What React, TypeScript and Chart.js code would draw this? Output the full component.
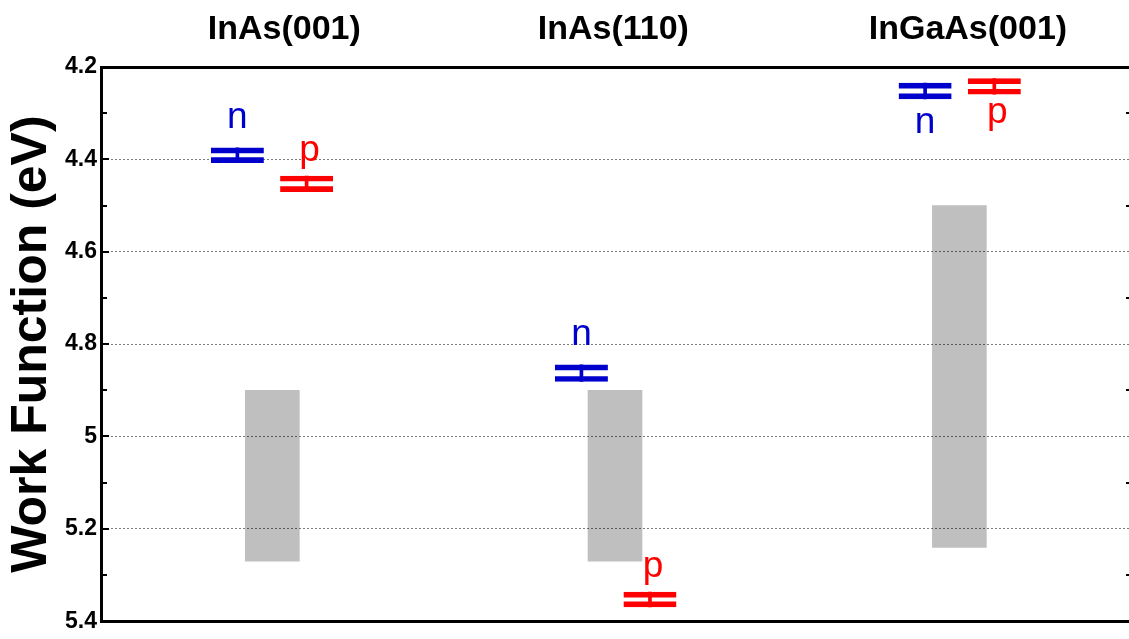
import React, { useEffect, useRef } from 'react';
import { Chart, registerables } from 'chart.js';

Chart.register(...registerables);

// ---- data ----
const categories = ['InAs(001)', 'InAs(110)', 'InGaAs(001)'];
const titleX = [1.035, 1.995, 3.03];

const bandX = [1.0, 2.0, 3.005];
const bandLow = [4.9, 4.9, 4.5];
const bandHigh = [5.27, 5.27, 5.24];

const nX = [0.898, 1.902, 2.905];
const nValue = [4.391, 4.863, 4.252];
const nError = [0.016, 0.018, 0.017];
const nLabelSide = ['above', 'above', 'below'];

const pX = [1.1, 2.102, 3.107];
const pValue = [4.453, 5.353, 4.242];
const pError = [0.017, 0.016, 0.017];
const pLabelSide = ['above', 'above', 'below'];

const yTicks = [4.2, 4.3, 4.4, 4.5, 4.6, 4.7, 4.8, 4.9, 5.0, 5.1, 5.2, 5.3, 5.4];
const yTickLabels = ['4.2', '', '4.4', '', '4.6', '', '4.8', '', '5', '', '5.2', '', '5.4'];

const BLUE = '#0000cd';
const RED = '#ff0000';
const FONT = '"Liberation Sans", Arial, sans-serif';

const decorPlugin = {
  id: 'decor',
  afterDatasetsDraw(chart: any) {
    const ctx = chart.ctx;
    const { left, right } = chart.chartArea;
    const ys = chart.scales.y;
    ctx.save();
    ctx.strokeStyle = '#000';
    ctx.lineWidth = 2;
    yTicks.forEach((v, i) => {
      if (i === 0 || i === yTicks.length - 1) return;
      const py = Math.round(ys.getPixelForValue(v));
      const major = yTickLabels[i] !== '';
      ctx.beginPath();
      ctx.moveTo(left, py);
      ctx.lineTo(left + (major ? 8 : 6), py);
      ctx.stroke();
      if (!major) {
        ctx.beginPath();
        ctx.moveTo(right - 3, py);
        ctx.lineTo(right, py);
        ctx.stroke();
      }
    });
    chart.data.datasets.forEach((ds: any, di: number) => {
      if (!ds.markerLabel) return;
      const meta = chart.getDatasetMeta(di);
      meta.data.forEach((el: any, i: number) => {
        const top = Math.min(el.y, el.base);
        const bottom = Math.max(el.y, el.base);
        const side = ds.labelSides[i];
        ctx.fillStyle = ds.borderColor;
        ctx.font = `37px ${FONT}`;
        ctx.textAlign = 'center';
        ctx.textBaseline = 'alphabetic';
        const ty = side === 'above' ? top - ds.gapAbove : bottom + ds.gapBelow;
        ctx.fillText(ds.markerLabel, el.x + ds.labelShift, ty);
      });
    });
    ctx.restore();
  },
};

export default function App() {
  const ref = useRef<HTMLCanvasElement>(null);

  useEffect(() => {
    if (!ref.current) return;
    const markerOutline = (xs: number[], vals: number[], errs: number[], color: string, label: string, sides: string[], gapAbove: number, gapBelow: number, labelShift: number) => ({
      data: xs.map((x, i) => ({ x, y: [vals[i] - errs[i], vals[i] + errs[i]] })),
      backgroundColor: 'rgba(0,0,0,0)',
      borderColor: color,
      borderWidth: { top: 5, bottom: 5, left: 0, right: 0 },
      borderSkipped: false,
      barThickness: 53,
      grouped: false,
      markerLabel: label,
      labelSides: sides,
      gapAbove,
      gapBelow,
      labelShift,
    });
    const markerStem = (xs: number[], vals: number[], errs: number[], color: string) => ({
      data: xs.map((x, i) => ({ x, y: [vals[i] - errs[i], vals[i] + errs[i]] })),
      backgroundColor: color,
      borderWidth: 0,
      barThickness: 3,
      grouped: false,
    });

    const chart = new Chart(ref.current, {
      type: 'bar',
      data: {
        datasets: [
          {
            data: bandX.map((x, i) => ({ x, y: [bandLow[i], bandHigh[i]] })),
            backgroundColor: 'rgba(0,0,0,0.25)',
            borderWidth: 0,
            barThickness: 54,
            grouped: false,
          } as any,
          markerOutline(nX, nValue, nError, BLUE, 'n', nLabelSide, 20, 34, 0) as any,
          markerStem(nX, nValue, nError, BLUE) as any,
          markerOutline(pX, pValue, pError, RED, 'p', pLabelSide, 15, 29, 3) as any,
          markerStem(pX, pValue, pError, RED) as any,
        ],
      },
      options: {
        animation: false,
        responsive: false,
        events: [],
        layout: { padding: 0 },
        plugins: { legend: { display: false }, tooltip: { enabled: false } },
        scales: {
          x: {
            type: 'linear',
            position: 'bottom',
            min: 0.5,
            max: 3.5,
            offset: false,
            grid: { display: false, offset: false },
            ticks: { display: false },
            border: { display: true, color: '#000', width: 3 },
            afterFit: (s: any) => { s.height = 17; },
          },
          x2: {
            type: 'linear',
            position: 'top',
            min: 0.5,
            max: 3.5,
            offset: false,
            grid: { display: false, drawTicks: false, offset: false },
            border: { display: true, color: '#000', width: 3 },
            afterBuildTicks: (s: any) => { s.ticks = titleX.map((v) => ({ value: v })); },
            ticks: {
              autoSkip: false,
              maxRotation: 0,
              padding: 17,
              color: '#000',
              font: { family: FONT, size: 34, weight: 'bold' },
              callback: (_v: any, i: number) => categories[i],
            },
            afterFit: (s: any) => { s.height = 67; },
          },
          y: {
            type: 'linear',
            reverse: true,
            min: 4.2,
            max: 5.4,
            afterBuildTicks: (s: any) => { s.ticks = yTicks.map((v) => ({ value: v })); },
            grid: {
              drawTicks: false,
              lineWidth: 1,
              color: (c: any) => {
                const i = c.index;
                if (i === 0 || i === yTicks.length - 1) return 'rgba(0,0,0,0)';
                return yTickLabels[i] ? '#7a7a7a' : 'rgba(0,0,0,0)';
              },
            },
            border: { display: true, color: '#000', width: 3, dash: [2, 2] },
            ticks: {
              autoSkip: false,
              padding: 4,
              color: '#000',
              font: { family: FONT, size: 23, weight: 'bold' },
              callback: (_v: any, i: number) => yTickLabels[i],
            },
            title: {
              display: true,
              text: 'Work Function (eV)',
              color: '#000',
              font: { family: FONT, size: 50, weight: 'bold' },
              padding: { top: 2, bottom: 0 },
            },
            afterFit: (s: any) => { s.width = 101; },
          },
        },
      } as any,
      plugins: [decorPlugin],
    });
    return () => chart.destroy();
  }, []);

  return (
    <div style={{ position: 'absolute', left: 0, top: 0, width: 1129, height: 639, background: '#fff' }}>
      <canvas ref={ref} width={1129} height={639} style={{ display: 'block' }} />
    </div>
  );
}
